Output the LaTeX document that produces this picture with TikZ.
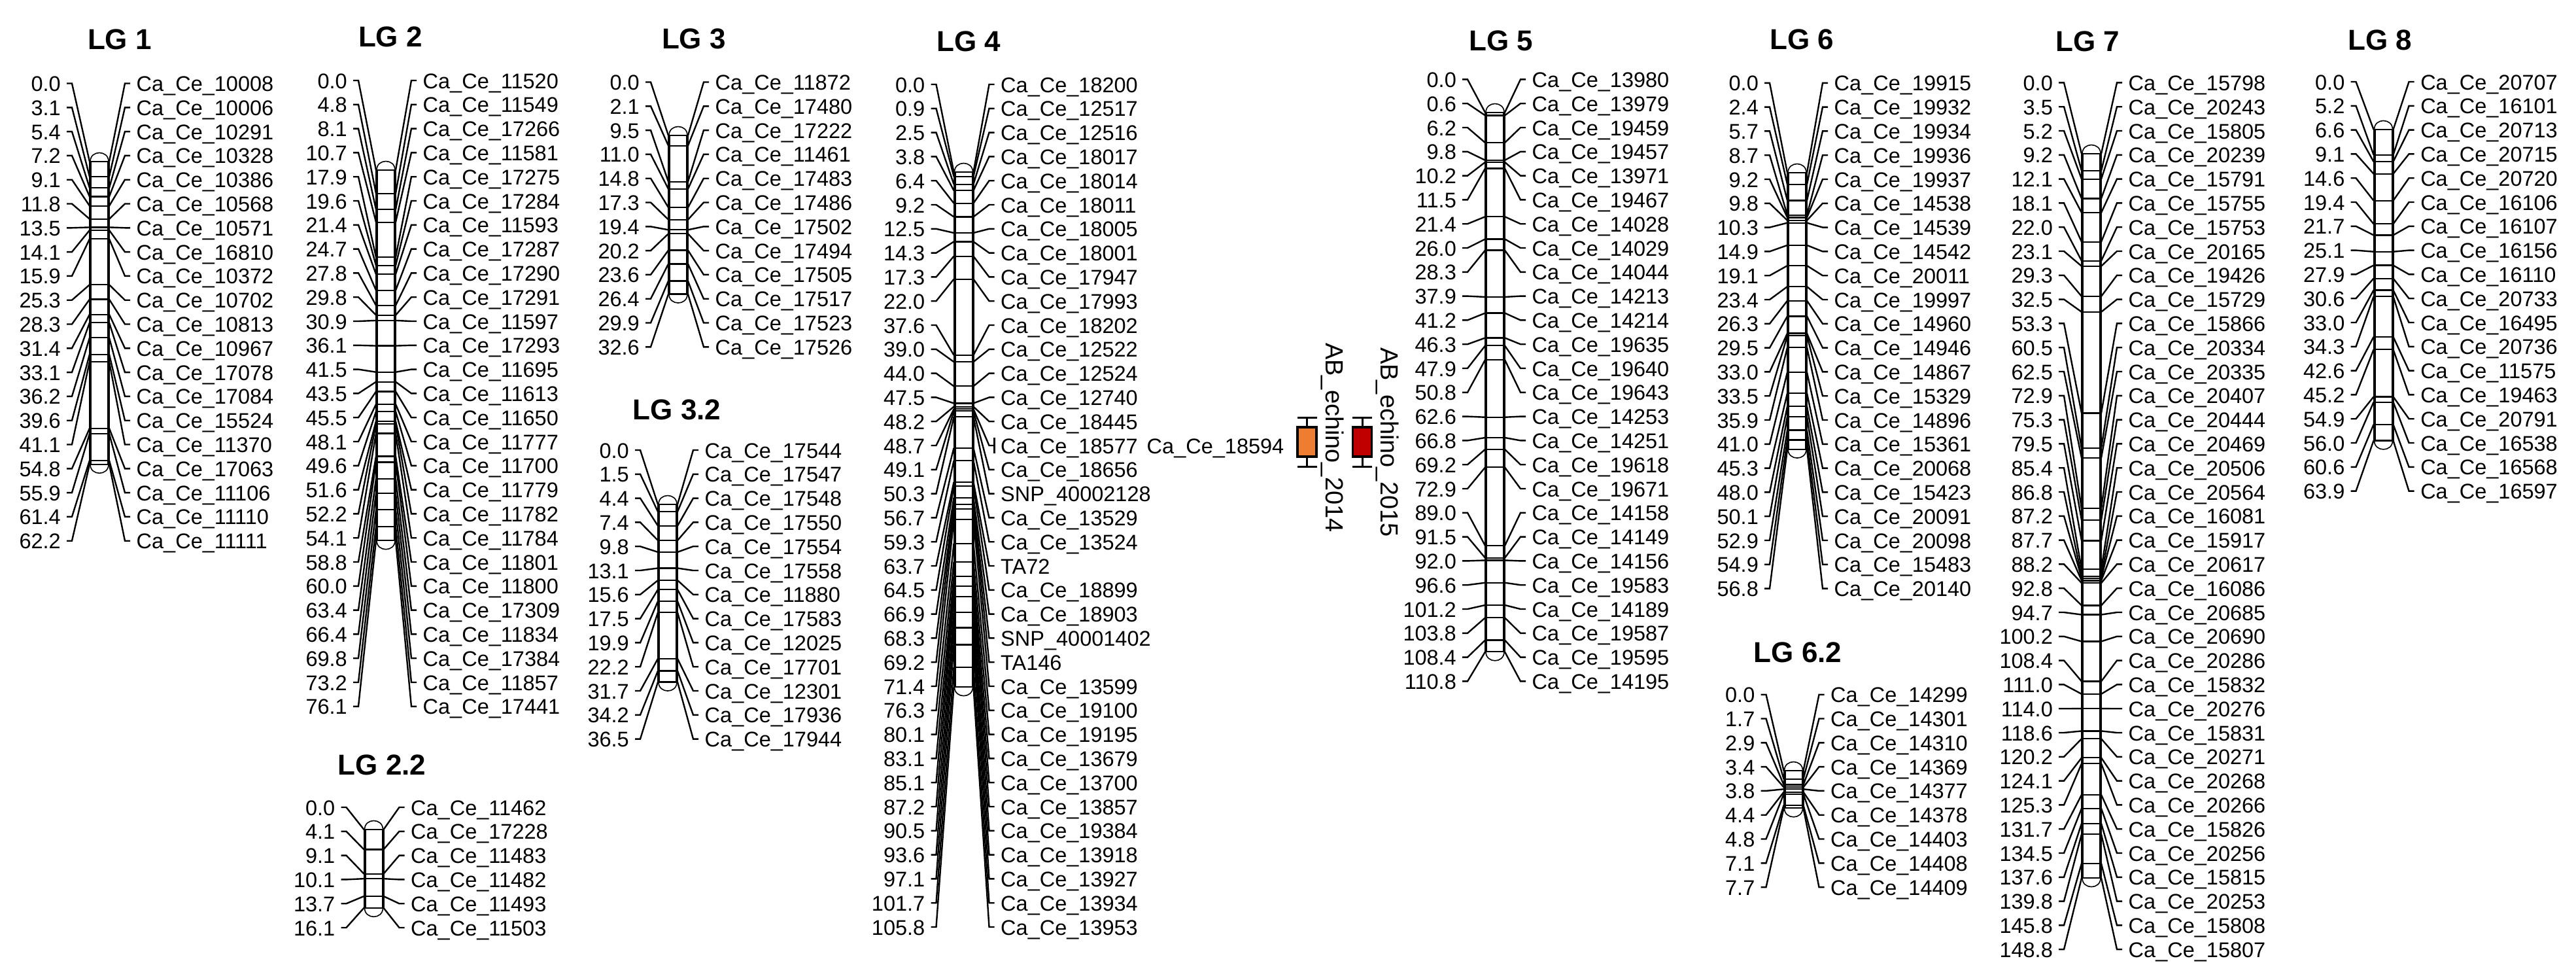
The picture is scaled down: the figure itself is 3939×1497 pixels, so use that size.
\documentclass[tikz,border=0pt]{standalone}
\usepackage{fontspec}
\setmainfont{Liberation Sans}
\usepackage{tikz}
\usetikzlibrary{positioning, calc}
\definecolor{boxorange}{HTML}{ED7D31}
\definecolor{boxred}{HTML}{C00000}
\tikzset{
    poslabel/.style={font=\fontsize{32.5}{36}\selectfont, anchor=east, inner xsep=9pt, inner ysep=0pt, text height=24pt, text depth=0pt},
    marklabel/.style={font=\fontsize{32.5}{36}\selectfont, anchor=west, inner xsep=9.5pt, inner ysep=0pt, text height=24pt, text depth=0pt},
    lgtitle/.style={font=\fontsize{44}{48}\selectfont\bfseries, inner sep=0pt},
    traitlabel/.style={font=\fontsize{38}{42}\selectfont, rotate=-90, anchor=base west, inner sep=0pt},
    linkline/.style={black, line width=2.4pt},
    markline/.style={black, line width=2.2pt},
    barside/.style={black, line width=4pt},
    barcap/.style={black, line width=1.6pt},
    qtlbox/.style={draw=black, line width=3.5pt, minimum width=29pt, minimum height=45pt, inner sep=0pt},
    whisker/.style={black, line width=3pt}
}
\def\cc{Ca\_Ce\_}
\def\cmscale{7.44}
\def\rowgap{36.8}
% id, title, title x, title y, bar x, bar top, first label y, data
\def\lgmap#1#2#3#4#5#6#7#8{%
    \node[lgtitle] (#1t) at (#3,#4) {#2};
    \foreach \pos/\mname [count=\i] in {#8}
    {
        \pgfmathsetmacro\ypos{#6+\pos*\cmscale}
        \pgfmathsetmacro\ylab{#7+(\i-1)*\rowgap}
        \xdef\yend{\ypos}
        \node[poslabel] (#1p\i) at (#5-50,\ylab) {\pos};
        \node[marklabel] (#1m\i) at (#5+47,\ylab) {\mname};
        \coordinate (#1a\i) at (#5-15,\ypos);
        \coordinate (#1b\i) at (#5+15,\ypos);
        \draw[linkline] (#1p\i.east) -- ++(8,0) -- (#1a\i);
        \draw[linkline] (#1m\i.west) -- ++(-8,0) -- (#1b\i);
        \draw[markline] (#1a\i) -- (#1b\i);
    }
    % bar with its two round ends
    \draw[barside] (#5-14,#6) -- (#5-14,\yend);
    \draw[barside] (#5+14,#6) -- (#5+14,\yend);
    \draw[barcap] (#5-14,#6) .. controls (#5-14,#6-18) and (#5+14,#6-18) .. (#5+14,#6);
    \draw[barcap] (#5-14,\yend) .. controls (#5-14,\yend+18) and (#5+14,\yend+18) .. (#5+14,\yend);
}
\begin{document}
\begin{tikzpicture}[x=1pt, y=-1pt]
    \useasboundingbox (0,0) rectangle (3939,1497);

    \lgmap{lga}{LG 1}{183}{60}{152}{247}{127.5}{
        0.0/\cc10008, 3.1/\cc10006, 5.4/\cc10291, 7.2/\cc10328, 9.1/\cc10386,
        11.8/\cc10568, 13.5/\cc10571, 14.1/\cc16810, 15.9/\cc10372, 25.3/\cc10702,
        28.3/\cc10813, 31.4/\cc10967, 33.1/\cc17078, 36.2/\cc17084, 39.6/\cc15524,
        41.1/\cc11370, 54.8/\cc17063, 55.9/\cc11106, 61.4/\cc11110, 62.2/\cc11111}

    \lgmap{lgb}{LG 2}{597}{56}{590}{260}{123}{
        0.0/\cc11520, 4.8/\cc11549, 8.1/\cc17266, 10.7/\cc11581, 17.9/\cc17275,
        19.6/\cc17284, 21.4/\cc11593, 24.7/\cc17287, 27.8/\cc17290, 29.8/\cc17291,
        30.9/\cc11597, 36.1/\cc17293, 41.5/\cc11695, 43.5/\cc11613, 45.5/\cc11650,
        48.1/\cc11777, 49.6/\cc11700, 51.6/\cc11779, 52.2/\cc11782, 54.1/\cc11784,
        58.8/\cc11801, 60.0/\cc11800, 63.4/\cc17309, 66.4/\cc11834, 69.8/\cc17384,
        73.2/\cc11857, 76.1/\cc17441}

    \lgmap{lgbb}{LG 2.2}{584}{1169}{571.5}{1268}{1234}{
        0.0/\cc11462, 4.1/\cc17228, 9.1/\cc11483, 10.1/\cc11482, 13.7/\cc11493,
        16.1/\cc11503}

    \lgmap{lgc}{LG 3}{1061}{59}{1037}{207}{125.5}{
        0.0/\cc11872, 2.1/\cc17480, 9.5/\cc17222, 11.0/\cc11461, 14.8/\cc17483,
        17.3/\cc17486, 19.4/\cc17502, 20.2/\cc17494, 23.6/\cc17505, 26.4/\cc17517,
        29.9/\cc17523, 32.6/\cc17526}

    \lgmap{lgcc}{LG 3.2}{1035}{626}{1021}{771}{688}{
        0.0/\cc17544, 1.5/\cc17547, 4.4/\cc17548, 7.4/\cc17550, 9.8/\cc17554,
        13.1/\cc17558, 15.6/\cc11880, 17.5/\cc17583, 19.9/\cc12025, 22.2/\cc17701,
        31.7/\cc12301, 34.2/\cc17936, 36.5/\cc17944}

    \lgmap{lgd}{LG 4}{1481}{63}{1473.5}{263}{129}{
        0.0/\cc18200, 0.9/\cc12517, 2.5/\cc12516, 3.8/\cc18017, 6.4/\cc18014,
        9.2/\cc18011, 12.5/\cc18005, 14.3/\cc18001, 17.3/\cc17947, 22.0/\cc17993,
        37.6/\cc18202, 39.0/\cc12522, 44.0/\cc12524, 47.5/\cc12740, 48.2/\cc18445,
        48.7/\cc18577, 49.1/\cc18656, 50.3/SNP\_40002128, 56.7/\cc13529, 59.3/\cc13524,
        63.7/TA72, 64.5/\cc18899, 66.9/\cc18903, 68.3/SNP\_40001402, 69.2/TA146,
        71.4/\cc13599, 76.3/\cc19100, 80.1/\cc19195, 83.1/\cc13679, 85.1/\cc13700,
        87.2/\cc13857, 90.5/\cc19384, 93.6/\cc13918, 97.1/\cc13927, 101.7/\cc13934,
        105.8/\cc13953}

    % second marker beside Ca_Ce_18577
    \node[marklabel] (lgdx) at (1744,681) {\cc18594};
    \draw[linkline] ([yshift=12pt]lgdm16.west) -- ([yshift=-12pt]lgdm16.west);

    \lgmap{lge}{LG 5}{2295.5}{62.5}{2286}{172}{121.4}{
        0.0/\cc13980, 0.6/\cc13979, 6.2/\cc19459, 9.8/\cc19457, 10.2/\cc13971,
        11.5/\cc19467, 21.4/\cc14028, 26.0/\cc14029, 28.3/\cc14044, 37.9/\cc14213,
        41.2/\cc14214, 46.3/\cc19635, 47.9/\cc19640, 50.8/\cc19643, 62.6/\cc14253,
        66.8/\cc14251, 69.2/\cc19618, 72.9/\cc19671, 89.0/\cc14158, 91.5/\cc14149,
        92.0/\cc14156, 96.6/\cc19583, 101.2/\cc14189, 103.8/\cc19587, 108.4/\cc19595,
        110.8/\cc14195}

    \lgmap{lgf}{LG 6}{2755}{60}{2748}{264}{126.8}{
        0.0/\cc19915, 2.4/\cc19932, 5.7/\cc19934, 8.7/\cc19936, 9.2/\cc19937,
        9.8/\cc14538, 10.3/\cc14539, 14.9/\cc14542, 19.1/\cc20011, 23.4/\cc19997,
        26.3/\cc14960, 29.5/\cc14946, 33.0/\cc14867, 33.5/\cc15329, 35.9/\cc14896,
        41.0/\cc15361, 45.3/\cc20068, 48.0/\cc15423, 50.1/\cc20091, 52.9/\cc20098,
        54.9/\cc15483, 56.8/\cc20140}

    \lgmap{lgff}{LG 6.2}{2749}{997}{2742.5}{1178}{1061.7}{
        0.0/\cc14299, 1.7/\cc14301, 2.9/\cc14310, 3.4/\cc14369, 3.8/\cc14377,
        4.4/\cc14378, 4.8/\cc14403, 7.1/\cc14408, 7.7/\cc14409}

    \lgmap{lgg}{LG 7}{3192.5}{63}{3198}{235}{126.4}{
        0.0/\cc15798, 3.5/\cc20243, 5.2/\cc15805, 9.2/\cc20239, 12.1/\cc15791,
        18.1/\cc15755, 22.0/\cc15753, 23.1/\cc20165, 29.3/\cc19426, 32.5/\cc15729,
        53.3/\cc15866, 60.5/\cc20334, 62.5/\cc20335, 72.9/\cc20407, 75.3/\cc20444,
        79.5/\cc20469, 85.4/\cc20506, 86.8/\cc20564, 87.2/\cc16081, 87.7/\cc15917,
        88.2/\cc20617, 92.8/\cc16086, 94.7/\cc20685, 100.2/\cc20690, 108.4/\cc20286,
        111.0/\cc15832, 114.0/\cc20276, 118.6/\cc15831, 120.2/\cc20271, 124.1/\cc20268,
        125.3/\cc20266, 131.7/\cc15826, 134.5/\cc20256, 137.6/\cc15815, 139.8/\cc20253,
        145.8/\cc15808, 148.8/\cc15807}

    \lgmap{lgh}{LG 8}{3639}{61}{3644.5}{198}{125}{
        0.0/\cc20707, 5.2/\cc16101, 6.6/\cc20713, 9.1/\cc20715, 14.6/\cc20720,
        19.4/\cc16106, 21.7/\cc16107, 25.1/\cc16156, 27.9/\cc16110, 30.6/\cc20733,
        33.0/\cc16495, 34.3/\cc20736, 42.6/\cc11575, 45.2/\cc19463, 54.9/\cc20791,
        56.0/\cc16538, 60.6/\cc16568, 63.9/\cc16597}

    % the two trait boxes
    \foreach \boxname/\xbox/\co/\xtext/\ytext/\yr in {
        abo/1998.5/boxorange/2027/524/2014,
        abr/2083/boxred/2111/531/2015}
    {
        \node[qtlbox, fill=\co] (\boxname) at (\xbox,675.5) {};
        \coordinate (\boxname t) at (\xbox,638);
        \coordinate (\boxname b) at (\xbox,713);
        \draw[whisker] (\boxname.north) -- (\boxname t);
        \draw[whisker] (\boxname.south) -- (\boxname b);
        \draw[whisker] ([xshift=-15pt]\boxname t) -- ([xshift=15pt]\boxname t);
        \draw[whisker] ([xshift=-15pt]\boxname b) -- ([xshift=15pt]\boxname b);
        \node[traitlabel] (\boxname l) at (\xtext,\ytext) {AB\_echino\_\yr};
    }
\end{tikzpicture}
\end{document}
